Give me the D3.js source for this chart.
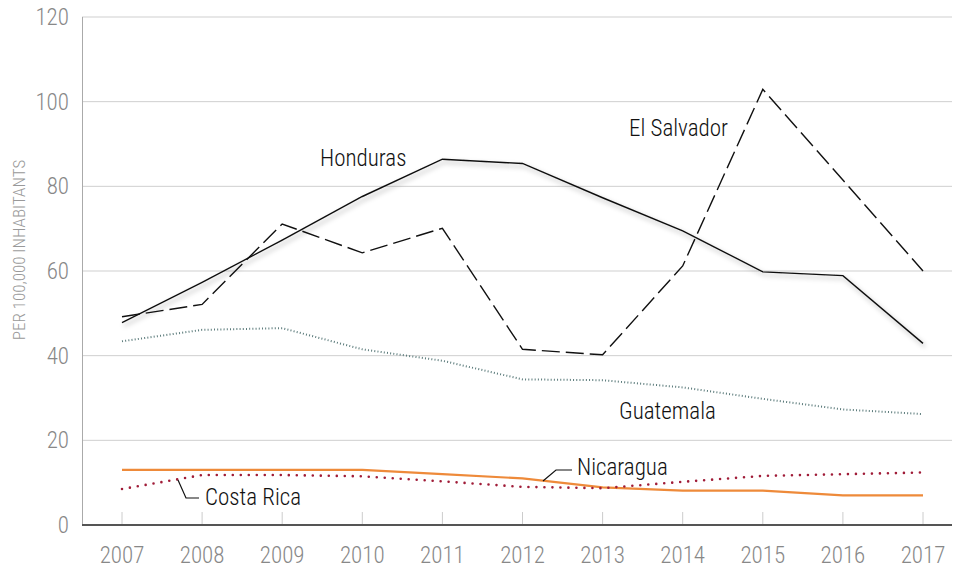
<!DOCTYPE html>
<html><head><meta charset="utf-8">
<script src="https://cdn.jsdelivr.net/npm/d3@7"></script>
<style>
body{margin:0;background:#fff;}
svg text{font-family:"Roboto Condensed","Liberation Sans Narrow","DejaVu Sans Condensed",sans-serif;font-weight:300;}
</style></head>
<body><svg id="c" width="954" height="571"></svg>
<script>
const years = [2007,2008,2009,2010,2011,2012,2013,2014,2015,2016,2017];
const honduras = [47.8,57.3,67.3,77.6,86.4,85.4,77.3,69.5,59.8,58.9,42.9];
const elSalvador = [49.2,52.1,71.1,64.3,70.1,41.5,40.2,61.2,102.9,81.5,60.0];
const guatemala = [43.4,46.1,46.5,41.5,38.8,34.4,34.2,32.5,29.8,27.3,26.2];
const nicaragua = [13.0,13.0,13.0,13.0,12.0,11.0,8.9,8.1,8.1,7.0,7.0];
const costaRica = [8.5,11.8,11.8,11.5,10.3,9.0,8.7,10.2,11.6,12.0,12.4];
const yTicks = [0,20,40,60,80,100,120];

const svg = d3.select("#c");
const x = d3.scalePoint().domain(years).range([122,923]);
const y = d3.scaleLinear().domain([0,120]).range([525,17]);

const defs = svg.append("defs");
const f = defs.append("filter").attr("id","sh").attr("x","-10%").attr("y","-20%").attr("width","120%").attr("height","140%");
f.append("feDropShadow").attr("dx",2).attr("dy",3).attr("stdDeviation",2.5).attr("flood-color","#000").attr("flood-opacity",0.35);

svg.append("g").selectAll("line").data(yTicks.filter(d=>d>0)).join("line")
  .attr("x1",82).attr("x2",952).attr("y1",d=>y(d)).attr("y2",d=>y(d))
  .attr("stroke","#cfcfcf").attr("stroke-width",1);
svg.append("line").attr("x1",82.5).attr("x2",82.5).attr("y1",y(120)).attr("y2",y(0)).attr("stroke","#aaa");

svg.append("g").selectAll("text").data(yTicks).join("text")
  .attr("x",69).attr("y",d=>y(d)).attr("dy","0.35em").attr("text-anchor","end")
  .attr("font-size",23).attr("fill","#888").text(d=>d);

svg.append("g").selectAll("line").data(years).join("line")
  .attr("x1",d=>x(d)).attr("x2",d=>x(d)).attr("y1",512).attr("y2",525)
  .attr("stroke","#ccc");
svg.append("g").selectAll("text").data(years).join("text")
  .attr("x",d=>x(d)).attr("y",555).attr("dy","0.35em").attr("text-anchor","middle")
  .attr("font-size",23).attr("fill","#888").text(d=>d);
svg.append("line").attr("x1",82).attr("x2",952).attr("y1",525).attr("y2",525).attr("stroke","#555").attr("stroke-width",2);

svg.append("text").attr("transform","translate(25,250) rotate(-90)").attr("text-anchor","middle")
  .attr("font-size",17).attr("fill","#999").text("PER 100,000 INHABITANTS");

const line = d3.line().x((d,i)=>x(years[i])).y(d=>y(d));

svg.append("path").datum(guatemala).attr("d",line).attr("fill","none")
  .attr("stroke","#5a7a7a").attr("stroke-width",2).attr("stroke-dasharray","1,2.2").attr("stroke-linecap","butt");
svg.append("path").datum(nicaragua).attr("d",line).attr("fill","none")
  .attr("stroke","#ee8a3a").attr("stroke-width",2.2);
svg.append("path").datum(costaRica).attr("d",line).attr("fill","none")
  .attr("stroke","#a01c38").attr("stroke-width",2.6).attr("stroke-dasharray","0,8").attr("stroke-linecap","round");
svg.append("path").datum(elSalvador).attr("d",line).attr("fill","none")
  .attr("stroke","#111").attr("stroke-width",1.4).attr("stroke-dasharray","18,6");
svg.append("path").datum(honduras).attr("d",line).attr("fill","none")
  .attr("stroke","#111").attr("stroke-width",1.4).attr("filter","url(#sh)");

const lab = [
  {t:"Honduras",x:320,y:158},
  {t:"El Salvador",x:629,y:128},
  {t:"Guatemala",x:619,y:411},
  {t:"Nicaragua",x:577,y:467},
  {t:"Costa Rica",x:205,y:497}
];
svg.append("g").selectAll("text").data(lab).join("text")
  .attr("x",d=>d.x).attr("y",d=>d.y).attr("dy","0.35em")
  .attr("font-size",23).attr("fill","#111").style("font-weight",350).text(d=>d.t);

svg.append("path").attr("d","M543,481 L556,470 L572,470").attr("fill","none").attr("stroke","#111").attr("stroke-width",1.2);
svg.append("path").attr("d","M178,480 L186,498 L199,498").attr("fill","none").attr("stroke","#111").attr("stroke-width",1.2);
</script></body></html>
